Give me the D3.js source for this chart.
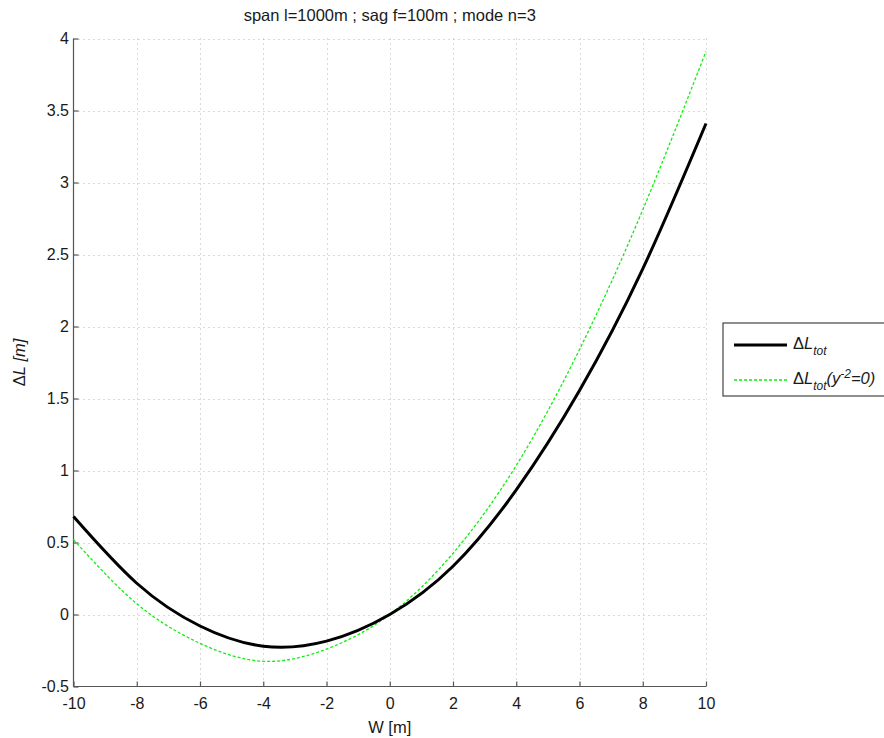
<!DOCTYPE html>
<html>
<head>
<meta charset="utf-8">
<script src="https://cdn.jsdelivr.net/npm/d3@7"></script>
<style>
  html, body { margin: 0; padding: 0; background: #fff; }
  svg { display: block; font-family: "Liberation Sans", Arial, sans-serif; }
</style>
</head>
<body>
<svg id="chart" width="884" height="738"></svg>
<script>
// ---- data ----
const titleText = "span l=1000m ; sag f=100m ; mode n=3";
const xValues   = [-10, -8, -6, -4, -2, 0, 2, 4, 6, 8, 10];
const dLtot     = [0.68, 0.217, -0.08, -0.22, -0.185, 0, 0.335, 0.865, 1.555, 2.40, 3.41];
const dLtotY0   = [0.52, 0.075, -0.2, -0.325, -0.24, 0, 0.425, 1.035, 1.84, 2.81, 3.91];
const xTicks    = [-10, -8, -6, -4, -2, 0, 2, 4, 6, 8, 10];
const yTicks    = [-0.5, 0, 0.5, 1, 1.5, 2, 2.5, 3, 3.5, 4];

(function () {
const svg = d3.select("#chart");
const pL = 73.5, pR = 706, pT = 38.5, pB = 686.5;
const FONT = "'Liberation Sans', Arial, sans-serif";
const TXT = "#1a1a1a";

const x = d3.scaleLinear().domain([-10, 10]).range([pL, pR]);
const y = d3.scaleLinear().domain([-0.5, 4]).range([pB, pT]);

// grid
const grid = svg.append("g").attr("stroke", "#b4b4b4").attr("stroke-width", 1)
  .attr("stroke-dasharray", "1,4");
xTicks.forEach(t => {
  if (t === -10) return;
  grid.append("line").attr("x1", Math.round(x(t)) + 0.5).attr("x2", Math.round(x(t)) + 0.5)
    .attr("y1", pT).attr("y2", pB);
});
yTicks.forEach(t => {
  if (t === -0.5) return;
  grid.append("line").attr("y1", Math.round(y(t)) + 0.5).attr("y2", Math.round(y(t)) + 0.5)
    .attr("x1", pL).attr("x2", pR);
});

// axes
const xAxis = d3.axisBottom(x).tickValues(xTicks).tickSize(-5).tickPadding(11.5)
  .tickFormat(d => String(d));
const yAxis = d3.axisLeft(y).tickValues(yTicks).tickSize(-5).tickPadding(4.5)
  .tickFormat(d => String(d));

const gx = svg.append("g").attr("transform", `translate(0,${pB})`).call(xAxis);
const gy = svg.append("g").attr("transform", `translate(${pL},0)`).call(yAxis);
[gx, gy].forEach(g => {
  g.select(".domain").attr("stroke", "#555").attr("stroke-width", 1.2);
  g.selectAll(".tick line").attr("stroke", "#555").attr("stroke-width", 1.2);
  g.selectAll(".tick text").attr("fill", TXT)
    .style("font-family", FONT).style("font-size", "16px");
});
gy.select(".domain").attr("d", `M0,${pT}V${pB}`);
gx.select(".domain").attr("d", `M${pL},0H${pR}`);

// lines
const ptsA = xValues.map((v, i) => [v, dLtot[i]]);
const ptsB = xValues.map((v, i) => [v, dLtotY0[i]]);
const line = d3.line().x(d => x(d[0])).y(d => y(d[1])).curve(d3.curveNatural);

svg.append("path").attr("d", line(ptsB)).attr("fill", "none")
  .attr("stroke", "#11ee11").attr("stroke-width", 1.3).attr("stroke-dasharray", "3,2");
svg.append("path").attr("d", line(ptsA)).attr("fill", "none")
  .attr("stroke", "#000").attr("stroke-width", 3);

// title
svg.append("text").attr("x", (pL + pR) / 2).attr("y", 21).attr("text-anchor", "middle")
  .attr("fill", TXT).style("font-size", "16.5px").text(titleText);

// x label
svg.append("text").attr("x", (pL + pR) / 2).attr("y", 733).attr("text-anchor", "middle")
  .attr("fill", TXT).style("font-size", "16.5px").text("W [m]");

// y label
const yl = svg.append("text").attr("transform", `translate(25,${(pT + pB) / 2}) rotate(-90)`)
  .attr("text-anchor", "middle").attr("fill", TXT).style("font-size", "16.5px");
yl.append("tspan").text("Δ");
yl.append("tspan").attr("font-style", "italic").text("L");
yl.append("tspan").text(" ");
yl.append("tspan").attr("font-style", "italic").text("[m]");

// legend
const lg = svg.append("g");
lg.append("rect").attr("x", 723).attr("y", 323).attr("width", 175).attr("height", 73)
  .attr("fill", "#fff").attr("stroke", "#444").attr("stroke-width", 1.2);
lg.append("line").attr("x1", 734).attr("x2", 787).attr("y1", 345).attr("y2", 345)
  .attr("stroke", "#000").attr("stroke-width", 3);
lg.append("line").attr("x1", 734).attr("x2", 787).attr("y1", 380).attr("y2", 380)
  .attr("stroke", "#11ee11").attr("stroke-width", 1.3).attr("stroke-dasharray", "3,2");

const t1 = lg.append("text").attr("x", 793).attr("y", 349).attr("fill", TXT).style("font-size", "16.5px");
t1.append("tspan").text("Δ");
t1.append("tspan").attr("font-style", "italic").text("L");
t1.append("tspan").attr("font-style", "italic").attr("font-size", "12px").attr("dy", 6).text("tot");

const t2 = lg.append("text").attr("x", 793).attr("y", 384).attr("fill", TXT).style("font-size", "16.5px");
t2.append("tspan").text("Δ");
t2.append("tspan").attr("font-style", "italic").text("L");
t2.append("tspan").attr("font-style", "italic").attr("font-size", "12px").attr("dy", 6).text("tot");
t2.append("tspan").attr("font-style", "italic").attr("dy", -6).text("(y");
t2.append("tspan").attr("font-style", "italic").attr("font-size", "12px").attr("dy", -6).text("-2");
t2.append("tspan").attr("font-style", "italic").attr("dy", 6).text("=0)");
})();
</script>
</body>
</html>
